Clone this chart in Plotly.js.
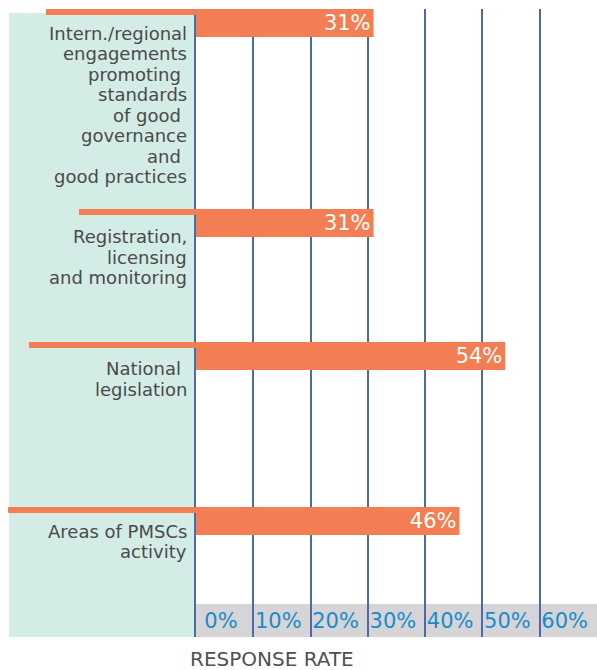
<!DOCTYPE html>
<html>
<head>
<meta charset="utf-8">
<script src="https://cdn.plot.ly/plotly-3.0.1.min.js"></script>
<style>html,body{margin:0;padding:0;background:#fff;}#chart{width:597px;height:670px;}</style>
</head>
<body>
<div id="chart"></div>
<script>
// ---- data ----
const categories = [
  "Intern./regional engagements promoting standards of good governance and good practices",
  "Registration, licensing and monitoring",
  "National legislation",
  "Areas of PMSCs activity"
];
const labelLines = [
  ["Intern./regional", "engagements", "promoting\u00a0", "standards", "of good\u00a0", "governance", "and\u00a0", "good practices"],
  ["Registration,", "licensing", "and monitoring"],
  ["National\u00a0", "legislation"],
  ["Areas of PMSCs", "activity"]
];
const values = [31, 31, 54, 46];
const tickVals = [0, 10, 20, 30, 40, 50, 60];
const tickText = ["0%", "10%", "20%", "30%", "40%", "50%", "60%"];
const axisTitle = "RESPONSE RATE";

// ---- layout constants (pixels) ----
const W = 597, H = 670;
const L = 196, R = 0, T = 9, B = 33;
const plotW = W - L - R, plotH = H - T - B;
const rowPos = [14, 214, 347, 512];        // bar centres, px from plot top
const firstLineOffset = [10, 13.5, 12.5, 10];
const lineStep = 20.5;
const ruleLeft = [46, 79, 29, 8];
const px2x = p => (p - L) / plotW;
const py2y = p => (H - B - p) / plotH;

const ORANGE = "#f47e53";
const GRID = "#4a6aa8";
const FONT = "DejaVu Sans";

const shapes = [];
// teal panel
shapes.push({type: "rect", xref: "paper", yref: "paper", layer: "below",
  x0: px2x(9), x1: 0, y0: 0, y1: py2y(13), fillcolor: "#d4ece6", line: {width: 0}});
// grey band
shapes.push({type: "rect", xref: "paper", yref: "paper", layer: "below",
  x0: 0, x1: 1, y0: 0, y1: py2y(604), fillcolor: "#d6d4d6", line: {width: 0}});
// orange rules left of bars
rowPos.forEach((r, i) => {
  shapes.push({type: "rect", xref: "paper", yref: "y", layer: "above",
    x0: px2x(ruleLeft[i]), x1: 0, y0: r - 14, y1: r - 8, fillcolor: ORANGE, line: {width: 0}});
});

const annotations = [];
labelLines.forEach((lines, i) => {
  lines.forEach((t, j) => {
    annotations.push({xref: "paper", yref: "y", x: px2x(188.5), y: rowPos[i] + firstLineOffset[i] + j * lineStep,
      xanchor: "right", yanchor: "middle", showarrow: false, text: t,
      font: {family: FONT, size: 18, color: "#4a4a4a"}});
  });
});
annotations.push({xref: "paper", yref: "paper", x: px2x(272), y: py2y(659), xanchor: "center", yanchor: "middle",
  showarrow: false, text: axisTitle, font: {family: FONT, size: 20, color: "#505050"}});

const trace = {
  type: "bar", orientation: "h",
  x: values, y: rowPos, width: 28,
  hovertext: categories,
  marker: {color: ORANGE, line: {width: 0}},
  text: values.map(v => v + "%"),
  textposition: "inside", insidetextanchor: "end", constraintext: "none",
  textfont: {family: FONT, size: 21, color: "#ffffff"},
  cliponaxis: false
};

const layout = {
  width: W, height: H,
  margin: {l: L, r: R, t: T, b: B, pad: 0},
  paper_bgcolor: "#ffffff", plot_bgcolor: "rgba(0,0,0,0)",
  showlegend: false,
  xaxis: {range: [0, 70], tickvals: tickVals, ticktext: tickText, showgrid: true, gridcolor: GRID, gridwidth: 2,
    zeroline: false, showline: false, ticks: "", ticklabelposition: "inside", ticklabelshift: 25, ticklabelstandoff: 2,
    tickfont: {family: FONT, size: 21, color: "#168ccc"}, fixedrange: true},
  yaxis: {range: [plotH, 0], showgrid: false, zeroline: false, showticklabels: false, ticks: "", fixedrange: true,
    showline: true, linecolor: GRID, linewidth: 2, layer: "below traces"},
  shapes: shapes,
  annotations: annotations,
  font: {family: FONT}
};

Plotly.newPlot("chart", [trace], layout, {displayModeBar: false, staticPlot: true});
</script>
</body>
</html>
